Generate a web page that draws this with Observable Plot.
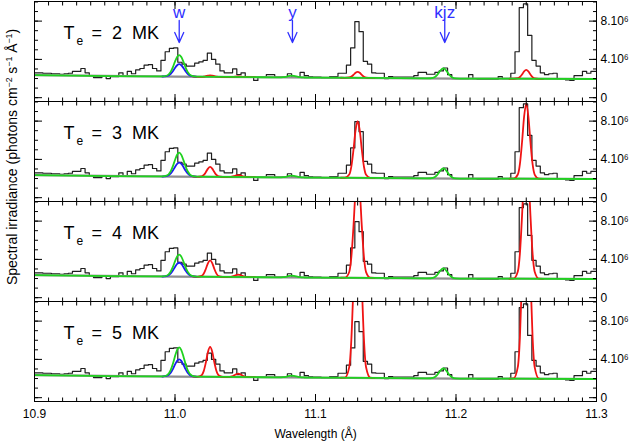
<!DOCTYPE html>
<html>
<head>
<meta charset="utf-8">
<script src="https://cdn.jsdelivr.net/npm/d3@7"></script>
<script src="https://cdn.jsdelivr.net/npm/@observablehq/plot@0.6"></script>
<style>
  body { margin: 0; background: #fff; }
  #chart { position: relative; width: 636px; height: 442px; }
  #chart svg text { white-space: pre; }
  #ylabel {
    position: absolute; left: 12px; top: 157px;
    transform: translate(-50%, -50%) rotate(-90deg);
    white-space: nowrap; font: 14px "Liberation Sans", Arial, sans-serif; color: #000;
  }
  #ylabel sup { font-size: 62%; }
</style>
</head>
<body>
<div id="chart">
  <div id="ylabel">Spectral irradiance (photons cm<sup>−2</sup> s<sup>−1</sup> Å<sup>−1</sup>)</div>
</div>
<script>
// panels (electron temperature)
const panels = ["2 MK", "3 MK", "4 MK", "5 MK"];

// observed spectrum, 10^6 photons cm-2 s-1 A-1, bins of 0.003 A from 10.9 A
const binStart = 10.9;
const binWidth = 0.003;
const observed = [
  2.6, 2.6, 2.55, 2.55, 2.5, 2.5, 2.45, 2.5, 2.55, 2.75,
  2.75, 3.05, 2.6, 2.3, 2.1, 2.1, 2.3, 2.0, 2.2, 2.2,
  2.6, 2.3, 2.75, 2.5, 2.9, 3.05, 3.4, 3.45, 3.05, 2.8,
  3.9, 4.8, 5.15, 5.2, 3.7, 3.5, 3.3, 3.3, 3.6, 3.75,
  3.9, 4.65, 4.0, 3.5, 2.8, 2.6, 2.6, 3.0, 2.4, 2.6,
  2.2, 2.2, 1.8, 2.15, 2.15, 2.4, 2.4, 2.15, 2.15, 2.15,
  2.5, 2.15, 2.15, 2.65, 2.3, 2.2, 2.15, 2.15, 2.1, 2.1,
  2.2, 2.2, 2.55, 2.55, 3.4, 5.2, 7.95, 6.9, 3.8, 3.5,
  2.6, 2.55, 2.55, 2.0, 2.2, 2.15, 2.15, 2.15, 2.15, 2.15,
  2.3, 2.65, 2.65, 2.45, 2.45, 2.65, 2.8, 3.1, 2.4, 2.0,
  2.0, 2.0, 2.0, 2.4, 2.0, 1.9, 1.9, 1.9, 1.9, 1.9,
  2.2, 2.0, 2.0, 2.55, 4.8, 9.4, 9.8, 6.5, 3.9, 3.3,
  2.6, 2.4, 2.5, 2.55, 2.0, 2.0, 1.85, 1.8, 2.3, 2.3,
  2.75, 2.55, 2.75, 2.75
];

// continuum
const contWl = [10.9, 11.0, 11.1, 11.2, 11.3];
const contFlux = [2.35, 2.2, 2.1, 2.0, 1.95];

// sample offsets (A) across each fitted line
const profileDx = [-0.012, -0.009, -0.006, -0.0045, -0.003, -0.0015, 0, 0.0015, 0.003, 0.0045, 0.006, 0.009, 0.012];

// w line (blue = w alone, green = total)
const wCenter = 11.003;
const blueW = [
  [2.21, 2.25, 2.5, 2.77, 3.1, 3.39, 3.5, 3.39, 3.1, 2.76, 2.49, 2.24, 2.19],
  [2.21, 2.26, 2.54, 2.84, 3.21, 3.53, 3.66, 3.53, 3.21, 2.83, 2.53, 2.24, 2.19],
  [2.21, 2.26, 2.54, 2.84, 3.21, 3.53, 3.65, 3.52, 3.2, 2.83, 2.53, 2.24, 2.19],
  [2.21, 2.27, 2.62, 2.99, 3.45, 3.85, 4.0, 3.84, 3.44, 2.98, 2.6, 2.25, 2.19]
];
const greenW = [
  [2.22, 2.29, 2.72, 3.19, 3.77, 4.26, 4.45, 4.24, 3.75, 3.17, 2.7, 2.27, 2.2],
  [2.22, 2.3, 2.78, 3.3, 3.94, 4.49, 4.7, 4.47, 3.92, 3.28, 2.76, 2.28, 2.2],
  [2.22, 2.29, 2.74, 3.21, 3.8, 4.31, 4.5, 4.29, 3.78, 3.2, 2.72, 2.28, 2.2],
  [2.22, 2.32, 2.91, 3.54, 4.32, 4.99, 5.25, 4.97, 4.3, 3.52, 2.89, 2.3, 2.2]
];
// y and kjz lines (green, same in every panel)
const yCenter = 11.083;
const greenY = [2.13, 2.13, 2.15, 2.18, 2.23, 2.28, 2.3, 2.28, 2.23, 2.18, 2.14, 2.11, 2.1];
const kjzCenter = 11.191;
const greenKjz = [2.02, 2.03, 2.16, 2.36, 2.65, 2.94, 3.06, 2.93, 2.64, 2.34, 2.14, 2.01, 2.0];

// Fe lines (red)
const redCenters = [11.025, 11.045, 11.13, 11.25];
const red2MK = [
  [2.19, 2.18, 2.18, 2.2, 2.25, 2.3, 2.33, 2.3, 2.25, 2.2, 2.18, 2.17, 2.16],
  [2.17, 2.16, 2.16, 2.17, 2.18, 2.2, 2.21, 2.2, 2.18, 2.17, 2.16, 2.15, 2.14],
  [2.08, 2.07, 2.11, 2.2, 2.38, 2.6, 2.7, 2.6, 2.38, 2.19, 2.1, 2.06, 2.06],
  [1.98, 1.98, 2.03, 2.16, 2.42, 2.75, 2.9, 2.74, 2.42, 2.15, 2.02, 1.97, 1.97]
];
const red3MK = [
  [2.19, 2.18, 2.23, 2.38, 2.68, 3.04, 3.21, 3.03, 2.67, 2.37, 2.22, 2.17, 2.16],
  [2.17, 2.16, 2.17, 2.2, 2.25, 2.32, 2.36, 2.32, 2.25, 2.19, 2.16, 2.15, 2.14],
  [2.08, 2.08, 2.41, 3.25, 4.96, 7.02, 8.0, 7.02, 4.96, 3.23, 2.39, 2.07, 2.06],
  [1.98, 1.99, 2.42, 3.53, 5.79, 8.51, 9.8, 8.51, 5.79, 3.52, 2.41, 1.98, 1.97]
];
const red4MK = [
  [2.19, 2.18, 2.27, 2.52, 3.02, 3.62, 3.9, 3.62, 3.01, 2.51, 2.26, 2.17, 2.16],
  [2.17, 2.16, 2.17, 2.21, 2.28, 2.36, 2.41, 2.36, 2.27, 2.2, 2.16, 2.15, 2.14],
  [2.08, 2.09, 2.68, 4.23, 7.39, 11.2, 13.0, 11.2, 7.38, 4.22, 2.67, 2.08, 2.06],
  [1.98, 2.0, 2.73, 4.65, 8.55, 13.25, 15.48, 13.25, 8.55, 4.64, 2.72, 1.99, 1.97]
];
const red5MK = [
  [2.19, 2.18, 2.35, 2.8, 3.7, 4.79, 5.3, 4.79, 3.69, 2.79, 2.34, 2.17, 2.16],
  [2.17, 2.16, 2.18, 2.22, 2.33, 2.45, 2.51, 2.45, 2.32, 2.21, 2.17, 2.15, 2.14],
  [2.08, 2.1, 3.19, 6.02, 11.78, 18.71, 22.0, 18.71, 11.77, 6.01, 3.18, 2.09, 2.06],
  [1.98, 2.01, 3.21, 6.33, 12.69, 20.35, 23.98, 20.35, 12.69, 6.32, 3.2, 2.0, 1.97]
];
const redByPanel = [red2MK, red3MK, red4MK, red5MK];

// line identifications in the top panel
const lineIds = ["w", "y", "kjz"];
const lineWl = [11.003, 11.0836, 11.192];

// axes
const xLabels = [10.9, 11.0, 11.1, 11.2, 11.3];
const xMinor = d3.range(0, 41).map(i => 10.9 + i * 0.01);
const yLabels = [0, 4, 8];
const yMinor = d3.range(0, 11);

const colGreen = "#1fd21f", colBlue = "#1c1cf0", colRed = "#f01414", colAnno = "#3030ff";

// tables
const obsRows = panels.flatMap(p => {
  const rows = observed.map((v, i) => ({panel: p, wl: binStart + binWidth * i, flux: v}));
  rows.push({panel: p, wl: binStart + binWidth * observed.length, flux: observed[observed.length - 1]});
  return rows;
});
const peakRows = (p, center, vals, id) =>
  vals.map((v, i) => ({panel: p, wl: center + profileDx[i], flux: v, id}));

const contRows = panels.flatMap(p => contWl.map((w, i) => ({panel: p, wl: w, flux: contFlux[i]})));
const blueRows = panels.flatMap((p, k) => peakRows(p, wCenter, blueW[k], "w"));
const redRows = panels.flatMap((p, k) =>
  redCenters.flatMap((c, j) => peakRows(p, c, redByPanel[k][j], p + j)));

const greenRows = panels.flatMap((p, k) => {
  const peaks = [
    peakRows(p, wCenter, greenW[k]),
    peakRows(p, yCenter, greenY),
    peakRows(p, kjzCenter, greenKjz)
  ];
  const centers = [wCenter, yCenter, kjzCenter];
  const cont = contWl
    .map((w, i) => ({panel: p, wl: w, flux: contFlux[i]}))
    .filter(d => centers.every(c => Math.abs(d.wl - c) > 0.0125));
  return cont.concat(...peaks).sort((a, b) => a.wl - b.wl);
});

const annoRows = lineIds.map((id, i) => ({panel: panels[0], id, wl: lineWl[i]}));

const fmtY = d => d === 0 ? "0" : `${d}.10\u2076`;
const noText = () => "";
const tickOpts = {facetAnchor: null, tickFormat: noText, label: null, stroke: "black"};

const chart = Plot.plot({
  width: 636,
  height: 442,
  marginLeft: 34,
  marginRight: 40,
  marginTop: 1,
  marginBottom: 41,
  style: {fontFamily: "Liberation Sans, Arial, sans-serif", fontSize: "12px", color: "black", background: "white"},
  x: {domain: [10.9, 11.3]},
  y: {domain: [-0.4, 10.05]},
  fy: {domain: panels, padding: 0, axis: null},
  marks: [
    Plot.line(obsRows, {x: "wl", y: "flux", fy: "panel", curve: "step-after", stroke: "#1e1e1e", strokeWidth: 1.2, clip: true}),
    Plot.line(contRows, {x: "wl", y: "flux", fy: "panel", stroke: "#8f8f8f", strokeWidth: 2.2, clip: true}),
    Plot.line(redRows, {x: "wl", y: "flux", fy: "panel", z: "id", curve: "monotone-x", stroke: colRed, strokeWidth: 1.8, clip: true}),
    Plot.line(blueRows, {x: "wl", y: "flux", fy: "panel", curve: "monotone-x", stroke: colBlue, strokeWidth: 1.8, clip: true}),
    Plot.line(greenRows, {x: "wl", y: "flux", fy: "panel", curve: "monotone-x", stroke: colGreen, strokeWidth: 1.8, clip: true}),

    // temperature labels
    Plot.text(panels, {fy: d => d, text: () => "T", frameAnchor: "top-left", dx: 29, dy: 37, lineAnchor: "bottom", textAnchor: "start", fontSize: 18}),
    Plot.text(panels, {fy: d => d, text: () => "e", frameAnchor: "top-left", dx: 42, dy: 43, lineAnchor: "bottom", textAnchor: "start", fontSize: 12}),
    Plot.text(panels, {fy: d => d, text: d => "=  " + d.replace(" MK", "") + "  MK", frameAnchor: "top-left", dx: 57, dy: 37, lineAnchor: "bottom", textAnchor: "start", fontSize: 18}),

    // line identifications
    Plot.text(annoRows, {x: "wl", fy: "panel", text: "id", frameAnchor: "top", dy: 16, lineAnchor: "bottom", fill: colAnno, fontSize: 17}),
    Plot.vector(annoRows, {
      x: "wl", fy: "panel", frameAnchor: "top", dy: 19, length: 22, rotate: 180, anchor: "start",
      stroke: colAnno, strokeWidth: 1.3,
      shape: {draw(ctx, l) { ctx.moveTo(0, 0); ctx.lineTo(0, -l); ctx.moveTo(-4.5, 10 - l); ctx.lineTo(0, -l); ctx.lineTo(4.5, 10 - l); }}
    }),

    Plot.frame({stroke: "black"}),

    // inward ticks on every panel
    Plot.axisX(xMinor, {...tickOpts, anchor: "bottom", tickSize: 3.5, dy: -3.5}),
    Plot.axisX(xMinor, {...tickOpts, anchor: "top", tickSize: 3.5, dy: 3.5}),
    Plot.axisX(xLabels, {...tickOpts, anchor: "bottom", tickSize: 7, dy: -7}),
    Plot.axisX(xLabels, {...tickOpts, anchor: "top", tickSize: 7, dy: 7}),
    Plot.axisY(yMinor, {...tickOpts, anchor: "left", tickSize: 4, dx: 4}),
    Plot.axisY(yMinor, {...tickOpts, anchor: "right", tickSize: 4, dx: -4}),
    Plot.axisY(yLabels, {...tickOpts, anchor: "left", tickSize: 8, dx: 8}),
    Plot.axisY(yLabels, {...tickOpts, anchor: "right", tickSize: 8, dx: -8}),

    // labels
    Plot.axisX(xLabels, {anchor: "bottom", tickSize: 0, tickPadding: 8, tickFormat: d3.format(".1f"), fontSize: 12,
      label: "Wavelength (Å)", labelAnchor: "center", labelArrow: "none", labelOffset: 36}),
    Plot.axisY(yLabels, {anchor: "right", tickSize: 0, tickPadding: 4, tickFormat: fmtY, fontSize: 12, label: null})
  ]
});

document.getElementById("chart").append(chart);
</script>
</body>
</html>
